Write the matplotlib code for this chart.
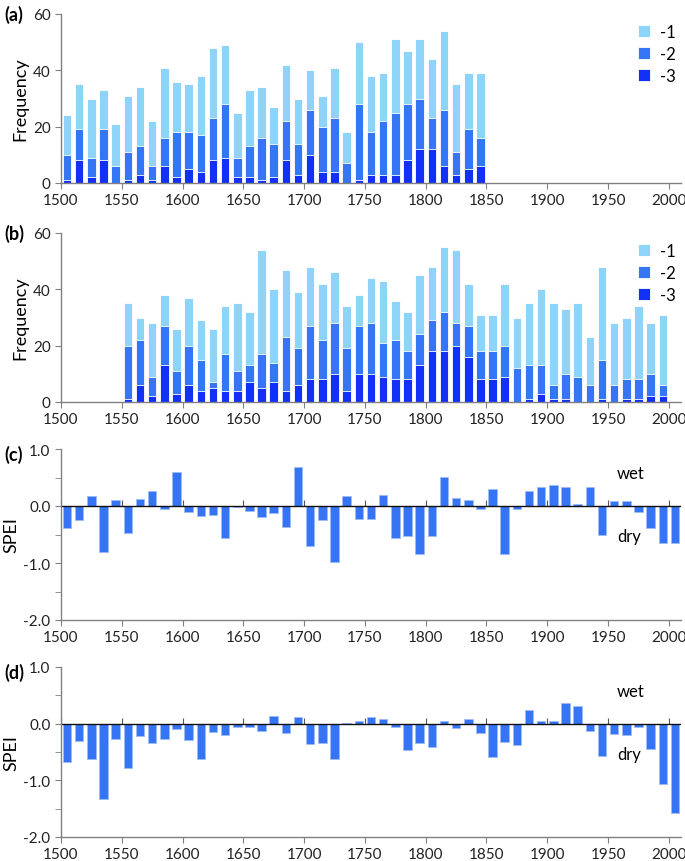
import numpy as np
import matplotlib
matplotlib.use("Agg")
import matplotlib.pyplot as plt
from matplotlib.ticker import MultipleLocator, NullFormatter

plt.rcParams['font.family'] = ['Lato', 'DejaVu Sans']
plt.rcParams['axes.unicode_minus'] = False

# panel (a): decades 1505..1845
years_a = np.arange(1505, 1846, 10)
freq_a_1 = [24, 35, 30, 33, 21, 31, 34, 22, 41, 36, 35, 38, 48, 49, 25, 33, 34, 27,
            42, 30, 40, 31, 41, 18, 50, 38, 39, 51, 47, 51, 44, 54, 35, 39, 39]
freq_a_2 = [10, 19, 9, 19, 6, 11, 13, 6, 16, 18, 18, 17, 23, 28, 9, 13, 16, 14,
            22, 14, 26, 20, 23, 7, 28, 18, 22, 25, 28, 30, 23, 26, 11, 19, 16]
freq_a_3 = [1, 8, 2, 8, 0, 1, 3, 1, 6, 2, 5, 4, 8, 9, 2, 2, 1, 2,
            8, 3, 10, 4, 4, 0, 1, 3, 3, 3, 8, 12, 12, 6, 3, 5, 6]

# panel (b): decades 1555..1995
years_b = np.arange(1555, 1996, 10)
freq_b_1 = [35, 30, 28, 38, 26, 37, 29, 26, 34, 35, 32, 54, 40, 47, 39, 48, 42, 46,
            34, 38, 44, 43, 36, 32, 45, 48, 55, 54, 42, 31, 31, 42, 30, 35, 40, 35,
            33, 35, 23, 48, 28, 30, 34, 28, 31]
freq_b_2 = [20, 22, 9, 27, 11, 20, 15, 7, 17, 11, 13, 17, 14, 23, 19, 27, 22, 28,
            19, 27, 28, 21, 22, 18, 24, 29, 32, 28, 27, 18, 18, 20, 12, 13, 13, 6,
            10, 9, 6, 15, 6, 8, 8, 10, 6]
freq_b_3 = [1, 6, 2, 13, 3, 6, 4, 5, 4, 4, 7, 5, 7, 4, 6, 8, 8, 10,
            4, 10, 10, 9, 8, 8, 13, 18, 18, 20, 16, 8, 8, 9, 0, 1, 3, 1,
            1, 0, 0, 1, 0, 1, 1, 2, 2]

# panels (c) and (d): decades 1505..2005
years_spei = np.arange(1505, 2006, 10)
spei_c = [-0.39, -0.25, 0.18, -0.80, 0.11, -0.47, 0.12, 0.26, -0.06, 0.60,
          -0.10, -0.18, -0.15, -0.57, -0.02, -0.08, -0.19, -0.13, -0.36, 0.68,
          -0.70, -0.25, -0.98, 0.18, -0.22, -0.22, 0.19, -0.57, -0.53, -0.85,
          -0.53, 0.51, 0.14, 0.11, -0.05, 0.29, -0.84, -0.05, 0.26, 0.34,
          0.37, 0.34, 0.03, 0.34, -0.51, 0.08, 0.08, -0.10, -0.39, -0.65, -0.65]
spei_d = [-0.67, -0.31, -0.63, -1.33, -0.27, -0.78, -0.22, -0.34, -0.27, -0.09,
          -0.29, -0.62, -0.15, -0.20, -0.05, -0.05, -0.13, 0.14, -0.16, 0.11,
          -0.36, -0.34, -0.63, 0.02, 0.04, 0.11, 0.08, -0.06, -0.46, -0.34,
          -0.41, 0.05, -0.08, 0.08, -0.16, -0.59, -0.32, -0.37, 0.25, 0.04,
          0.04, 0.36, 0.31, -0.13, -0.57, -0.18, -0.20, -0.06, -0.44, -1.07, -1.58]

c1, c2, c3 = '#8ed4f8', '#3476f6', '#1230f8'
c_spei = '#3575f5'
axis_col = '#808080'
W, H = 685, 862

fig = plt.figure(figsize=(W / 100, H / 100), dpi=100)


def new_axes(top_px, bottom_px):
    ax = fig.add_axes([61 / W, 1 - bottom_px / H, 620 / W, (bottom_px - top_px) / H])
    for s in ['top', 'right']:
        ax.spines[s].set_visible(False)
    for s in ['left', 'bottom']:
        ax.spines[s].set_color(axis_col)
        ax.spines[s].set_linewidth(1.0)
    ax.tick_params(colors=axis_col, labelcolor='#222222', labelsize=11,
                   direction='out', length=4)
    ax.set_xlim(1500, 2010)
    ax.xaxis.set_major_locator(MultipleLocator(50))
    return ax


def freq_panel(ax, years, f1, f2, f3, label):
    ax.bar(years, f1, width=7, color=c1, edgecolor='white', linewidth=0.6, label='-1')
    ax.bar(years, f2, width=7, color=c2, edgecolor='white', linewidth=0.6, label='-2')
    ax.bar(years, f3, width=7, color=c3, edgecolor='white', linewidth=0.6, label='-3')
    ax.set_ylim(0, 60)
    ax.yaxis.set_major_locator(MultipleLocator(20))
    ax.set_ylabel('Frequency', fontsize=13, labelpad=3)
    ax.legend(loc='upper right', bbox_to_anchor=(1.015, 1.03), frameon=False,
              fontsize=12, handlelength=0.7, handleheight=0.7,
              handletextpad=0.6, labelspacing=0.35)
    ax.text(-0.092, 1.0, label, transform=ax.transAxes, fontsize=13,
            fontweight='bold', va='center', ha='left')


def spei_panel(ax, years, vals, label):
    ax.bar(years, vals, width=7, color=c_spei, edgecolor='#9dbcf8', linewidth=0.6)
    ax.set_ylim(-2.0, 1.0)
    ax.yaxis.set_major_locator(MultipleLocator(1.0))
    ax.yaxis.set_minor_locator(MultipleLocator(0.5))
    ax.yaxis.set_major_formatter(plt.FormatStrFormatter('%.1f'))
    ax.tick_params(axis='y', which='minor', colors=axis_col, direction='out', length=4)
    ax.axhline(0, color='#111111', linewidth=1.0)
    zero = ax.secondary_xaxis(2 / 3)
    zero.spines['bottom'].set_visible(False)
    zero.spines['top'].set_visible(False)
    zero.xaxis.set_major_locator(MultipleLocator(50))
    zero.xaxis.set_major_formatter(NullFormatter())
    zero.tick_params(direction='out', length=4, colors='#555555')
    ax.set_ylabel('SPEI', fontsize=13, labelpad=3)
    ax.text(0.897, 0.86, 'wet', transform=ax.transAxes, fontsize=12, va='center')
    ax.text(0.897, 0.49, 'dry', transform=ax.transAxes, fontsize=12, va='center')
    ax.text(-0.092, 0.97, label, transform=ax.transAxes, fontsize=13,
            fontweight='bold', va='center', ha='left')


ax_a = new_axes(15, 184)
freq_panel(ax_a, years_a, freq_a_1, freq_a_2, freq_a_3, '(a)')

ax_b = new_axes(234, 403)
freq_panel(ax_b, years_b, freq_b_1, freq_b_2, freq_b_3, '(b)')

ax_c = new_axes(450, 621)
spei_panel(ax_c, years_spei, spei_c, '(c)')

ax_d = new_axes(668, 838)
spei_panel(ax_d, years_spei, spei_d, '(d)')

fig.savefig('out.png', dpi=100)
